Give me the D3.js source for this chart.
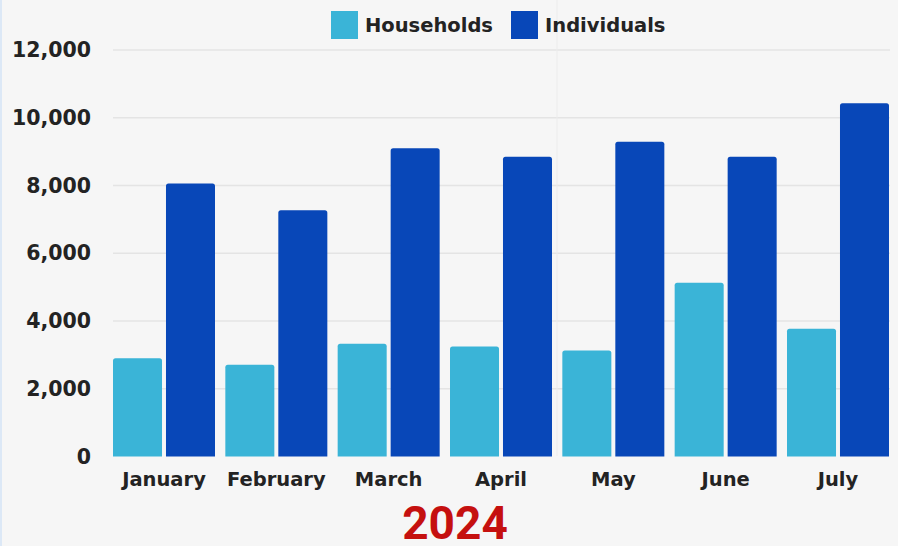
<!DOCTYPE html>
<html>
<head>
<meta charset="utf-8">
<script src="https://cdn.jsdelivr.net/npm/d3@7"></script>
<style>
  html, body { margin: 0; padding: 0; background: #f6f6f6; }
  svg { display: block; }
</style>
</head>
<body>
<svg id="chart" width="898" height="546"></svg>
<script>
const months = ["January", "February", "March", "April", "May", "June", "July"];
const seriesNames = ["Households", "Individuals"];
const households = [2900, 2710, 3330, 3250, 3130, 5130, 3770];
const individuals = [8060, 7270, 9100, 8850, 9290, 8850, 10430];
const yTicks = [0, 2000, 4000, 6000, 8000, 10000, 12000];
const yearLabel = "2024";
const colors = ["#3ab4d7", "#0847b8"];

const data = months.map((m, i) => ({ month: m, values: [households[i], individuals[i]] }));
const labelFont = "'DejaVu Sans', sans-serif";

const svg = d3.select("#chart");
svg.append("rect").attr("width", 898).attr("height", 546).attr("fill", "#f6f6f6");
svg.append("rect").attr("x", 0).attr("y", 0).attr("width", 2).attr("height", 546).attr("fill", "#dce8f6");

const x0 = d3.scaleBand().domain(months).range([113, 889]).paddingInner(0.092).paddingOuter(0);
const x1 = d3.scaleBand().domain(seriesNames).range([0, x0.bandwidth()]).paddingInner(0.075);
const y = d3.scaleLinear().domain([0, 12000]).range([456.5, 50]);

// gridlines
svg.append("g").selectAll("line").data(yTicks.slice(1)).join("line")
  .attr("x1", 113).attr("x2", 890)
  .attr("y1", d => y(d)).attr("y2", d => y(d))
  .attr("stroke", "#e4e4e4").attr("stroke-width", 1.5);

// faint vertical seam
svg.append("line").attr("x1", 557).attr("x2", 557).attr("y1", 0).attr("y2", 456)
  .attr("stroke", "#ececec").attr("stroke-width", 1);

// y labels
const yAxis = d3.axisLeft(y).tickValues(yTicks).tickSize(0).tickPadding(0).tickFormat(d3.format(","));
const yg = svg.append("g").attr("transform", "translate(91,0)").call(yAxis);
yg.select(".domain").remove();
yg.selectAll("text")
  .style("font-family", labelFont).style("font-size", "20.5px").style("font-weight", 700)
  .attr("fill", "#232323");

// bars
const groups = svg.append("g").selectAll("g").data(data).join("g")
  .attr("transform", d => `translate(${x0(d.month)},0)`);
groups.selectAll("path").data(d => d.values.map((v, i) => ({ key: seriesNames[i], v, i }))).join("path")
  .attr("fill", d => colors[d.i])
  .attr("d", d => {
    const bx = x1(d.key), bw = x1.bandwidth(), top = y(d.v), bottom = y(0), r = 2.5;
    return `M${bx},${bottom}V${top + r}Q${bx},${top} ${bx + r},${top}H${bx + bw - r}Q${bx + bw},${top} ${bx + bw},${top + r}V${bottom}Z`;
  });

// x labels
const xAxis = d3.axisBottom(x0).tickSize(0).tickPadding(0);
const xg = svg.append("g").attr("transform", "translate(0,472)").call(xAxis);
xg.select(".domain").remove();
xg.selectAll("text")
  .style("font-family", labelFont).style("font-size", "19.5px").style("font-weight", 700)
  .attr("fill", "#232323");

// legend
const legendX = [331, 511];
const legend = svg.append("g").selectAll("g").data(seriesNames).join("g")
  .attr("transform", (d, i) => `translate(${legendX[i]},11)`);
legend.append("rect").attr("width", 27).attr("height", 28).attr("fill", (d, i) => colors[i]);
legend.append("text").attr("x", 34).attr("y", 14).attr("dy", "0.36em")
  .style("font-family", labelFont).style("font-size", "19.5px").style("font-weight", 700)
  .attr("fill", "#232323")
  .text(d => d);

// year
svg.append("text").attr("x", 455).attr("y", 539)
  .attr("text-anchor", "middle")
  .style("font-family", "Roboto, sans-serif").style("font-size", "46px").style("font-weight", 700)
  .attr("fill", "#c5100f").text(yearLabel);
</script>
</body>
</html>
